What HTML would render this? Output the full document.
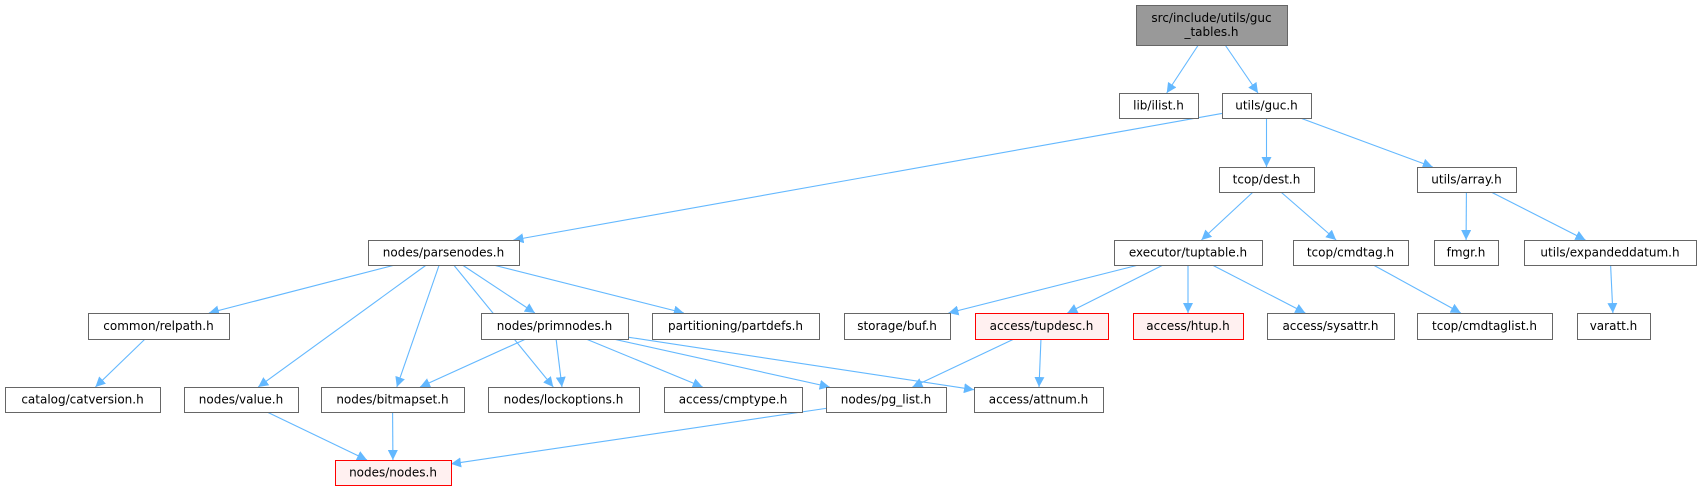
<!DOCTYPE html>
<html><head><meta charset="utf-8"><style>
html,body{margin:0;padding:0;background:#fff;}
svg{display:block}
text{font-family:"DejaVu Sans","Liberation Sans",sans-serif;font-size:12px;fill:#000}
</style></head><body>
<svg id="g" width="1702" height="491" viewBox="0 0 1702 491" xmlns="http://www.w3.org/2000/svg">
<defs><marker id="ar" viewBox="0 0 10 10" refX="10" refY="5" markerWidth="10" markerHeight="10" markerUnits="userSpaceOnUse" orient="auto"><path d="M0,0 L10,5 L0,10 z" fill="#63b8ff"/></marker></defs>
<g id="edges"></g><g id="nodes"></g>
</svg>
<script>
var N={
top:[1136,5,1287,45,'src/include/utils/guc|_tables.h','g'],
ilist:[1119,93,1198,118,'lib/ilist.h'],
guc:[1222,93,1311,118,'utils/guc.h'],
dest:[1219,167,1314,192,'tcop/dest.h'],
array:[1417,167,1516,192,'utils/array.h'],
parse:[368,240,519,265,'nodes/parsenodes.h'],
tupt:[1114,240,1262,265,'executor/tuptable.h'],
cmdtag:[1293,240,1408,265,'tcop/cmdtag.h'],
fmgr:[1434,240,1498,265,'fmgr.h'],
exp:[1524,240,1696,265,'utils/expandeddatum.h'],
relpath:[88,313,229,339,'common/relpath.h'],
prim:[481,313,628,339,'nodes/primnodes.h'],
part:[652,313,819,339,'partitioning/partdefs.h'],
buf:[844,313,950,339,'storage/buf.h'],
tupd:[975,313,1108,339,'access/tupdesc.h','r'],
htup:[1133,313,1243,339,'access/htup.h','r'],
sys:[1267,313,1394,339,'access/sysattr.h'],
cmdl:[1417,313,1552,339,'tcop/cmdtaglist.h'],
varatt:[1577,313,1650,339,'varatt.h'],
cat:[5,387,160,412,'catalog/catversion.h'],
value:[184,387,298,412,'nodes/value.h'],
bms:[321,387,464,412,'nodes/bitmapset.h'],
lock:[488,387,639,412,'nodes/lockoptions.h'],
cmp:[664,387,802,412,'access/cmptype.h'],
pgl:[826,387,946,412,'nodes/pg_list.h'],
attn:[974,387,1103,412,'access/attnum.h'],
nodes:[335,460,451,485,'nodes/nodes.h','r']
};
var E=[['top','ilist'],['top','guc'],['guc','parse'],['guc','dest'],['guc','array'],
['parse','relpath'],['parse','value'],['parse','bms'],['parse','lock'],['parse','prim'],['parse','part'],
['relpath','cat'],['prim','bms'],['prim','lock'],['prim','cmp'],['prim','pgl'],['prim','attn'],
['dest','tupt'],['dest','cmdtag'],['array','fmgr'],['array','exp'],
['tupt','buf'],['tupt','tupd'],['tupt','htup'],['tupt','sys'],['cmdtag','cmdl'],['exp','varatt'],
['tupd','pgl'],['tupd','attn'],['value','nodes'],['bms','nodes'],['pgl','nodes']];
var ns='http://www.w3.org/2000/svg';
function el(t,a,p){var e=document.createElementNS(ns,t);for(var k in a)e.setAttribute(k,a[k]);p.appendChild(e);return e;}
var eg=document.getElementById('edges'),ng=document.getElementById('nodes');
function clip(b,cx,cy,dx,dy){var hw=(b[2]-b[0])/2,hh=(b[3]-b[1])/2;var t=Math.min(dx?hw/Math.abs(dx):1e9,dy?hh/Math.abs(dy):1e9);return [cx+dx*t,cy+dy*t];}
E.forEach(function(e){var a=N[e[0]],b=N[e[1]];
var ax=(a[0]+a[2])/2,ay=(a[1]+a[3])/2,bx=(b[0]+b[2])/2,by=(b[1]+b[3])/2;
var dx=bx-ax,dy=by-ay;var p=clip(a,ax,ay,dx,dy),q=clip(b,bx,by,-dx,-dy);
el('line',{x1:p[0],y1:p[1],x2:q[0],y2:q[1],stroke:'#63b8ff','stroke-width':1.1,'marker-end':'url(#ar)'},eg);});
for(var k in N){var n=N[k];var fill='#fff',st='#666';if(n[5]=='g'){fill='#999';st='#666';}if(n[5]=='r'){fill='#fff0f0';st='#ff0000';}
el('rect',{x:n[0]+.5,y:n[1]+.5,width:n[2]-n[0],height:n[3]-n[1],fill:fill,stroke:st,'stroke-width':1},ng);
var lines=n[4].split('|');var cx=(n[0]+n[2])/2,cy=(n[1]+n[3])/2;
lines.forEach(function(s,i){var y=cy+4+(i-(lines.length-1)/2)*14;var t=el('text',{x:cx,y:y,'text-anchor':'middle'},ng);t.textContent=s;});}
</script>
</body></html>
